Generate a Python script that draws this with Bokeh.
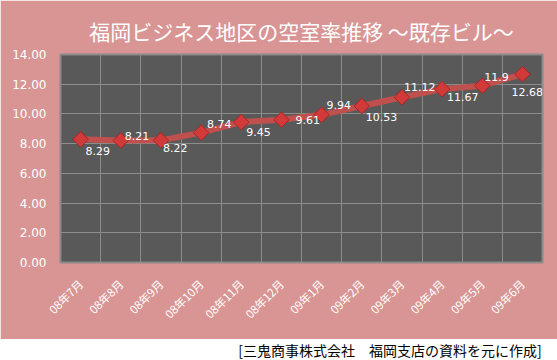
import math
from bokeh.plotting import figure
from bokeh.layouts import column
from bokeh.models import (ColumnDataSource, Range1d, FixedTicker, NumeralTickFormatter, Title)
from bokeh.core.properties import value
from bokeh.embed import file_html
from bokeh.resources import INLINE

# ---- data ----
months = ["08年7月", "08年8月", "08年9月", "08年10月", "08年11月", "08年12月",
          "09年1月", "09年2月", "09年3月", "09年4月", "09年5月", "09年6月"]
vacancy = [8.29, 8.21, 8.22, 8.74, 9.45, 9.61, 9.94, 10.53, 11.12, 11.67, 11.9, 12.68]
y_ticks = [0, 2, 4, 6, 8, 10, 12, 14]
title_text = "福岡ビジネス地区の空室率推移 ～既存ビル～"
source_text = "[三鬼商事株式会社　福岡支店の資料を元に作成]"

# label placement (style, screen px)
lab_dx = [5, 4, 2, 6, 5, 14, 5, 4, 2, 5, 2, -11]
lab_dy = [12, -5, 8, -9, 10, 0, -10, 11, -10, 8, -9, 18]

PINK = "#d99594"
PLOT_BG = "#595959"
GRID = "#8c8c8c"

n = len(months)
xs = [i + 0.5 for i in range(n)]
src = ColumnDataSource(dict(x=xs, y=vacancy, lab=[f"{v:g}" for v in vacancy],
                            dx=lab_dx, dy=lab_dy))

p = figure(width=557, height=339, output_backend="svg", toolbar_location=None,
           x_range=Range1d(0, n), y_range=Range1d(0, 14),
           min_border_left=60, min_border_right=15, min_border_top=54, min_border_bottom=77)
p.background_fill_color = PLOT_BG
p.border_fill_color = PINK
p.outline_line_color = "#8a8a8a"
p.outline_line_width = 2

p.title = Title(text=title_text, align="center", text_color="white",
                text_font="Noto Sans CJK JP", text_font_size="21px",
                text_font_style="normal", standoff=17, offset=0)

# y axis
p.yaxis.ticker = FixedTicker(ticks=y_ticks)
p.yaxis.formatter = NumeralTickFormatter(format="0.00")
p.yaxis.major_label_text_color = "white"
p.yaxis.major_label_text_font = "DejaVu Sans"
p.yaxis.major_label_text_font_size = "12px"
p.yaxis.axis_line_color = None
p.yaxis.major_tick_line_color = None
p.yaxis.minor_tick_line_color = None
p.yaxis.major_tick_out = 0
p.yaxis.major_label_standoff = 14

# x axis
p.xaxis.ticker = FixedTicker(ticks=xs)
p.xaxis.major_label_overrides = {x: m for x, m in zip(xs, months)}
p.xaxis.major_label_orientation = math.pi / 4
p.xaxis.major_label_text_color = "white"
p.xaxis.major_label_text_font = "Noto Sans CJK JP"
p.xaxis.major_label_text_font_size = "11.5px"
p.xaxis.axis_line_color = None
p.xaxis.major_tick_line_color = None
p.xaxis.minor_tick_line_color = None
p.xaxis.major_tick_out = 0
p.xaxis.major_label_standoff = 19

# grids
p.xgrid.ticker = FixedTicker(ticks=list(range(1, n)))
p.xgrid.grid_line_color = GRID
p.ygrid.ticker = FixedTicker(ticks=y_ticks)
p.ygrid.grid_line_color = GRID

# line + markers
p.line("x", "y", source=src, line_width=6, line_color="#c0504d")
p.scatter("x", "y", source=src, marker="square", size=11, angle=math.pi / 4,
          fill_color="#d23a3a", line_color="#a52626", line_width=1)
p.text("x", "y", text="lab", source=src, x_offset="dx", y_offset="dy",
       text_color="white", text_font=value("DejaVu Sans"), text_font_size="11px",
       text_align="left", text_baseline="middle")

# source strip
p2 = figure(width=557, height=21, output_backend="svg", toolbar_location=None,
            x_range=Range1d(0, 557), y_range=Range1d(0, 21),
            min_border=0)
p2.axis.visible = False
p2.grid.visible = False
p2.outline_line_color = None
p2.background_fill_color = "white"
p2.border_fill_color = "white"
p2.text(x=[556], y=[11], text=[source_text], text_color="black",
        text_font=value("Noto Sans CJK JP"), text_font_size="14px",
        text_align="right", text_baseline="middle")

layout = column(p, p2, spacing=0)
open("out.html", "w").write(file_html(layout, INLINE))
